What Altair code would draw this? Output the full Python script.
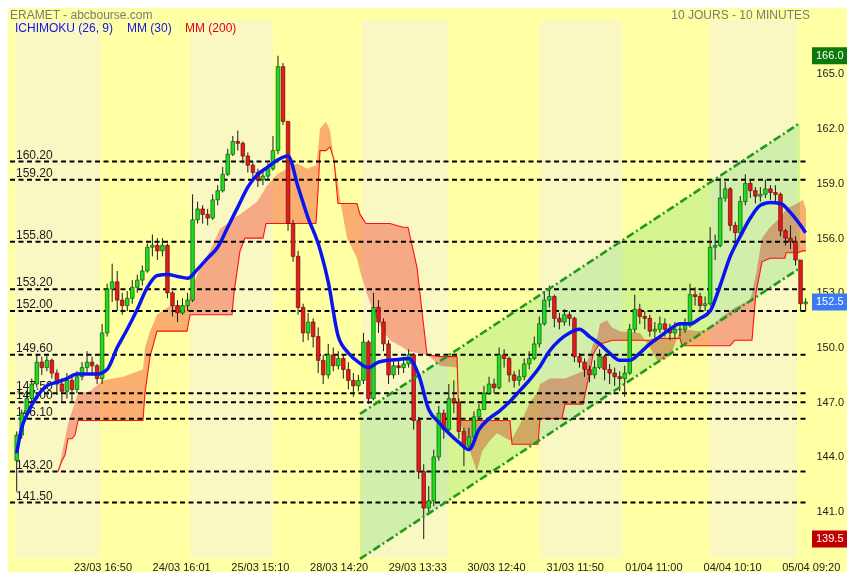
import altair as alt
import pandas as pd

# ---------------- data (30-minute candles, index j) ----------------
first_open = 143.8
close = [
    145.2, 146.4, 147.2, 148.0, 149.2, 148.9, 149.3, 148.6, 148.0, 147.6,
    148.2, 147.7, 148.4, 148.9, 149.2, 149.0, 148.3, 150.8, 153.2, 153.6,
    152.6, 152.3, 152.7, 153.3, 153.7, 154.2, 155.5, 155.6, 155.3, 155.6,
    153.0, 152.3, 151.9, 152.3, 152.6, 157.0, 157.6, 157.3, 157.1, 158.1,
    158.6, 159.5, 160.6, 161.3, 161.2, 160.5, 160.0, 159.6, 159.2, 159.4,
    159.8, 160.8, 165.4, 162.4, 156.8, 155.0, 152.2, 150.8, 151.4, 150.6,
    149.3, 148.5, 149.6, 149.0, 149.4, 148.8, 148.2, 147.9, 148.2, 150.3,
    147.2, 152.2, 151.4, 150.2, 148.5, 149.0, 148.9, 149.1, 149.6, 146.0,
    143.2, 141.2, 141.6, 144.0, 146.4, 145.5, 147.2, 147.0, 145.4, 144.6,
    145.1, 146.2, 146.6, 147.5, 148.0, 147.8, 149.6, 149.4, 148.5, 148.2,
    148.4, 149.1, 149.4, 150.2, 151.3, 152.6, 152.8, 151.6, 151.4, 151.8,
    151.6, 149.5, 149.2, 148.8, 148.5, 148.9, 149.5, 148.8, 148.6, 148.4,
    148.3, 148.6, 151.0, 152.1, 151.7, 151.6, 150.9, 151.0, 151.3, 151.0,
    150.8, 151.0, 151.0, 151.2, 152.9, 152.8, 152.3, 152.4, 155.5, 155.6,
    158.2, 158.7, 156.7, 156.3, 158.0, 159.0, 158.6, 158.3, 158.4, 158.7,
    158.5, 158.4, 156.4, 156.0, 155.8, 154.8, 152.4, 152.5]
high = [
    145.4, 146.6, 147.6, 148.3, 149.6, 149.5, 149.6, 149.4, 148.8, 148.3,
    148.6, 148.4, 148.7, 149.2, 149.8, 149.5, 149.1, 151.3, 153.5, 154.6,
    154.2, 153.0, 153.1, 153.7, 154.0, 154.5, 155.7, 156.2, 156.0, 156.0,
    155.7, 153.1, 152.6, 152.7, 153.0, 158.4, 158.0, 157.8, 157.6, 158.4,
    158.9, 159.9, 160.9, 161.6, 161.9, 161.3, 160.7, 160.2, 159.8, 159.7,
    160.1, 161.6, 166.0, 165.6, 162.4, 157.0, 155.3, 152.4, 151.9, 151.6,
    151.1, 149.6, 150.2, 150.0, 149.8, 149.6, 149.2, 148.6, 148.5, 150.8,
    150.4, 153.0, 152.6, 151.6, 150.4, 149.4, 149.3, 149.5, 149.9, 149.7,
    146.2, 143.6, 142.4, 144.4, 146.8, 146.6, 148.0, 148.2, 147.2, 145.6,
    145.6, 146.5, 146.9, 147.9, 148.4, 148.3, 150.0, 149.9, 149.5, 148.7,
    148.8, 149.4, 149.8, 150.6, 151.7, 153.1, 153.4, 152.9, 151.9, 152.1,
    152.0, 151.7, 149.7, 149.4, 149.0, 149.3, 149.9, 149.6, 149.1, 148.9,
    148.7, 149.0, 151.3, 152.9, 152.4, 152.0, 151.8, 151.4, 151.7, 151.6,
    151.3, 151.4, 151.3, 151.6, 153.5, 153.3, 153.0, 152.8, 156.6, 156.2,
    159.3, 159.1, 158.8, 156.9, 158.3, 159.5, 159.2, 158.8, 158.8, 159.2,
    158.9, 158.9, 158.5, 156.5, 156.7, 156.1, 154.8, 152.7]
low = [
    142.1, 145.0, 146.1, 147.0, 147.8, 148.5, 148.7, 148.3, 147.4, 147.0,
    147.2, 147.0, 147.5, 148.2, 148.6, 148.6, 148.0, 148.0, 150.6, 152.5,
    152.0, 151.8, 152.0, 152.4, 153.0, 153.4, 154.1, 155.0, 154.8, 155.0,
    152.7, 151.7, 151.4, 151.8, 152.0, 152.5, 156.8, 156.8, 156.7, 157.0,
    157.8, 158.5, 159.4, 160.5, 160.8, 160.1, 159.6, 159.1, 158.8, 158.9,
    159.2, 159.7, 160.6, 162.2, 156.4, 154.7, 151.8, 150.3, 150.4, 150.0,
    148.6, 148.0, 148.3, 148.7, 148.8, 148.3, 147.7, 147.3, 147.6, 148.0,
    146.9, 147.1, 150.8, 149.8, 148.0, 148.3, 148.5, 148.6, 148.9, 145.5,
    142.8, 139.5, 140.9, 141.3, 143.8, 145.0, 145.4, 146.4, 145.0, 143.5,
    144.4, 144.9, 146.0, 146.6, 147.4, 147.5, 147.7, 148.9, 148.1, 147.8,
    147.9, 148.2, 148.8, 149.3, 150.0, 151.2, 152.2, 151.1, 151.0, 151.2,
    151.2, 149.2, 148.9, 148.4, 148.1, 148.3, 148.8, 148.2, 148.0, 147.9,
    147.6, 147.3, 148.5, 150.8, 151.3, 151.0, 150.6, 150.5, 150.8, 150.6,
    150.4, 150.5, 150.6, 150.8, 151.1, 152.3, 152.0, 152.0, 152.3, 154.8,
    155.5, 158.0, 156.4, 155.5, 156.2, 157.8, 158.2, 157.9, 158.0, 158.2,
    158.1, 158.0, 156.1, 155.6, 155.4, 154.5, 152.0, 152.0]

# MM(30)
ma_j = [0, 1, 2, 4, 6, 8, 10, 12, 14, 16, 18, 20, 22, 24, 26, 28, 30, 32, 34, 36,
        38, 40, 42, 44, 46, 48, 50, 52, 54, 56, 58, 60, 62, 64, 66, 68, 70, 72, 74, 76,
        78, 80, 82, 84, 86, 88, 90, 92, 94, 96, 98, 100, 102, 104, 106, 108, 110, 112,
        114, 116, 118, 120, 122, 124, 126, 128, 130, 132, 134, 136, 138, 140, 142, 144,
        146, 148, 150, 152, 154, 156, 157]
ma_v = [144.2, 145.6, 146.3, 147.3, 147.9, 148.1, 148.3, 148.55, 148.55, 148.55,
        148.8, 150.0, 151.0, 152.1, 153.3, 153.95, 154.0, 153.9, 153.8, 154.3,
        154.9, 155.5, 156.6, 157.7, 158.8, 159.5, 159.9, 160.3, 160.5, 158.8,
        157.1, 155.7, 153.6, 150.6, 149.7, 149.2, 148.9, 149.2, 149.3, 149.35,
        149.4, 148.5, 146.6, 145.9, 145.3, 144.8, 144.4, 145.5, 146.1, 146.5,
        147.0, 147.6, 148.2, 148.9, 149.8, 150.4, 150.8, 151.0, 150.6, 150.2,
        149.7, 149.3, 149.3, 149.7, 150.2, 150.6, 151.0, 151.3, 151.3, 151.6,
        152.0, 153.4, 155.0, 156.1, 157.1, 157.8, 157.95, 157.9, 157.4, 156.7, 156.3]

# Ichimoku cloud: red step line and the other cloud edge
cloud_j = [8.22, 9.01, 9.61, 10.21, 11.0, 11.6, 12.2, 14.59, 17.17, 21.15, 25.13, 25.53,
           26.53, 27.92, 30.51, 33.89, 34.49, 36.48, 38.47, 40.46, 42.85, 43.24, 44.44,
           45.43, 47.82, 49.02, 49.61, 51.8, 55.78, 57.77, 59.56, 59.96, 60.36, 61.55,
           62.35, 63.14, 63.94, 64.54, 65.73, 67.72, 68.32, 69.51, 70.91, 72.9, 74.29,
           76.88, 77.87, 79.66, 81.65, 84.24, 87.62, 88.02, 88.82, 90.21, 91.6, 92.6,
           94.19, 95.58, 98.17, 98.57, 100.16, 102.15, 103.74, 104.14, 106.13, 108.52,
           109.11, 112.7, 114.09, 114.69, 115.48, 116.08, 117.47, 118.47, 120.06, 124.04,
           126.03, 127.42, 129.01, 130.41, 132.0, 132.4, 135.98, 137.97, 139.96, 141.95,
           142.95, 145.93, 146.33, 147.12, 148.32, 149.91, 151.9, 152.9, 153.1, 153.89,
           155.28, 156.48, 157.07]
kijun = [143.2, 143.8, 144.1, 145.0, 145.0, 145.2, 146.0, 146.0, 146.0, 146.0, 146.0, 147.5,
         149.5, 150.9, 150.9, 150.9, 151.8, 151.8, 151.8, 151.8, 151.8, 153.0, 155.3,
         156.0, 156.0, 156.0, 156.8, 156.8, 156.8, 156.8, 156.8, 158.5, 160.8, 160.8,
         161.0, 160.3, 157.9, 157.9, 157.9, 157.9, 157.3, 156.8, 156.8, 156.8, 156.8,
         156.6, 156.6, 154.4, 149.6, 149.5, 149.5, 146.0, 146.0, 146.0, 146.0, 146.0,
         146.0, 146.0, 146.0, 144.7, 144.7, 144.7, 144.7, 146.1, 146.1, 146.1,
         146.9, 146.9, 148.7, 149.6, 150.0, 150.2, 150.3, 150.4, 150.4, 150.4,
         150.4, 150.5, 150.5, 150.5, 150.5, 150.1, 150.1, 150.1, 150.1, 150.1,
         150.4, 150.4, 150.4, 153.0, 154.7, 154.9, 154.9, 154.9, 155.2, 155.2,
         155.2, 155.3, 155.3]
span_a = [143.2, 144.2, 145.0, 145.8, 146.5, 147.0, 147.5, 147.6, 148.2, 148.4, 148.8, 150.0,
          150.9, 151.8, 152.3, 152.3, 153.0, 154.4, 155.3, 156.5, 157.0, 157.1, 157.3,
          157.5, 158.0, 158.5, 158.8, 159.5, 160.1, 159.8, 160.0, 160.8, 162.0, 162.4,
          161.9, 160.3, 159.0, 157.8, 156.0, 154.9, 154.2, 153.1, 152.0, 150.9, 150.4,
          150.0, 149.8, 149.7, 149.6, 149.0, 148.9, 146.0, 145.5, 144.3, 143.2, 144.3,
          144.9, 145.3, 144.9, 145.0, 145.8, 147.0, 147.6, 148.0, 148.3, 148.3,
          148.3, 148.7, 149.6, 150.2, 150.5, 151.3, 151.5, 151.1, 150.9, 150.8,
          150.0, 149.3, 149.3, 149.8, 150.9, 151.0, 150.9, 151.0, 151.6, 152.0,
          152.2, 152.6, 153.0, 154.0, 156.0, 156.6, 157.1, 157.5, 157.6, 157.7,
          157.9, 158.1, 157.6]

# Bullish channel
chan_j = [68.32, 155.88]
chan_upper = [146.36, 162.31]
chan_lower = [138.41, 154.36]

# alternate day bands
band_start = [-0.4, 34.5, 68.7, 104.1, 138.0]
band_end = [16.6, 51.0, 85.8, 120.5, 155.3]

levels = [160.2, 159.2, 155.8, 153.2, 152.0, 149.6, 147.5, 147.0, 146.1, 143.2, 141.5]
level_labels = ["160.20", "159.20", "155.80", "153.20", "152.00", "149.60",
                "147.50", "147.00", "146.10", "143.20", "141.50"]

tick_j = [17.17, 32.83, 48.49, 64.16, 79.82, 95.48, 111.15, 126.81, 142.47, 158.13]
tick_labels = ["23/03 16:50", "24/03 16:01", "25/03 15:10", "28/03 14:20", "29/03 13:33",
               "30/03 12:40", "31/03 11:50", "01/04 11:00", "04/04 10:10", "05/04 09:20"]

axis_values = [141, 144, 147, 150, 153, 156, 159, 162, 165]
marker_prices = [166.0, 152.5, 139.5]
marker_labels = ["166.0", "152.5", "139.5"]
marker_colors = ["#0B7A0B", "#3A7BF5", "#C00000"]

legend_texts = ["ICHIMOKU (26, 9)", "MM (30)", "MM (200)"]
legend_colors = ["#1414E6", "#1414E6", "#E60000"]

# ---------------- tables ----------------
opens = [first_open] + close[:-1]
candles = pd.DataFrame({
    "j": list(range(len(close))), "o": opens, "h": high, "l": low, "c": close,
})
candles["dir"] = ["up" if c >= o else "down" for o, c in zip(opens, close)]

ma_df = pd.DataFrame({"j": ma_j, "v": ma_v})
cloud_df = pd.DataFrame({"j": cloud_j, "b": kijun, "a": span_a})
chan_df = pd.DataFrame({"j": chan_j, "up": chan_upper, "lo": chan_lower})
band_df = pd.DataFrame({"s": band_start, "e": band_end})
lvl_df = pd.DataFrame({"p": levels, "t": level_labels})
tick_df = pd.DataFrame({"j": tick_j, "t": tick_labels})
mark_df = pd.DataFrame({"p": marker_prices, "t": marker_labels, "col": marker_colors})
legend_df = pd.DataFrame({"t": legend_texts, "col": legend_colors})

FONT = "Liberation Sans"
W, H = 798, 538
xs = alt.Scale(domain=[-1.731, 157.08], nice=False, zero=False, padding=0)
ys = alt.Scale(domain=[138.46, 167.96], nice=False, zero=False, padding=0)
yaxis = alt.Axis(orient="right", values=axis_values, format=".1f", ticks=False,
                 domain=False, grid=False, labelPadding=10, labelFontSize=11,
                 labelColor="#222222", labelFont=FONT, title=None)


def X(f):
    return alt.X(f, type="quantitative", scale=xs, axis=None)


def Y(f):
    return alt.Y(f, type="quantitative", scale=ys, axis=yaxis)


bands = alt.Chart(band_df).mark_rect(color="#FAF8C2").encode(
    x=X("s"), x2="e", y=alt.value(0), y2=alt.value(H))

chan_fill = alt.Chart(chan_df).mark_area(color="#D6F5E0", blend="multiply").encode(
    x=X("j"), y=Y("lo"), y2="up")

cloud = alt.Chart(cloud_df).mark_area(color="#FAAFAF", blend="multiply").encode(
    x=X("j"), y=Y("a"), y2="b")

kijun_line = alt.Chart(cloud_df).mark_line(color="#FF1010", strokeWidth=1.1).encode(
    x=X("j"), y=Y("b"))

lvl_rules = alt.Chart(lvl_df).mark_rule(color="black", strokeWidth=2, strokeDash=[5, 3.5]).encode(
    y=Y("p"), x=alt.value(2), x2=alt.value(W))

lvl_text = alt.Chart(lvl_df).mark_text(align="left", baseline="alphabetic", dy=-3,
                                       fontSize=12, font=FONT, color="#1A1A1A").encode(
    y=Y("p"), x=alt.value(8), text="t")

chan_up = alt.Chart(chan_df).mark_line(color="#1E9A1E", strokeWidth=2.6,
                                       strokeDash=[8, 3, 2, 3]).encode(x=X("j"), y=Y("up"))
chan_lo = alt.Chart(chan_df).mark_line(color="#1E9A1E", strokeWidth=2.6,
                                       strokeDash=[8, 3, 2, 3]).encode(x=X("j"), y=Y("lo"))

wicks = alt.Chart(candles).mark_rule(color="#1a1a1a", strokeWidth=1).encode(
    x=X("j"), y=Y("l"), y2="h")

bodies = alt.Chart(candles).mark_bar(size=3.6, strokeWidth=0.7, opacity=1).encode(
    x=X("j"), y=Y("o"), y2="c",
    color=alt.Color("dir:N", scale=alt.Scale(domain=["up", "down"], range=["#1EDC1E", "#E41B1B"]), legend=None),
    stroke=alt.Stroke("dir:N", scale=alt.Scale(domain=["up", "down"], range=["#0A5A0A", "#6A0A0A"]), legend=None))

ma_line = alt.Chart(ma_df).mark_line(color="#0A14F0", strokeWidth=3.5, interpolate="monotone").encode(
    x=X("j"), y=Y("v"))

boxes = alt.Chart(mark_df).mark_tick(orient="horizontal", size=35, thickness=17, opacity=1).encode(
    x=alt.value(821.5), y=Y("p"), color=alt.Color("col:N", scale=None))

box_text = alt.Chart(mark_df).mark_text(align="left", baseline="middle", color="white",
                                        fontSize=11, font=FONT).encode(
    x=alt.value(808), y=Y("p"), text="t")

date_text = alt.Chart(tick_df).mark_text(align="center", baseline="middle", fontSize=11,
                                         font=FONT, color="#222222").encode(
    x=X("j"), y=alt.value(H + 10), text="t")

title_df = pd.DataFrame({"t": ["ERAMET - abcbourse.com"]})
title = alt.Chart(title_df).mark_text(align="left", baseline="alphabetic", fontSize=12,
                                      font=FONT, color="#7A7A7A").encode(
    x=alt.value(2), y=alt.value(-1), text="t")
sub_df = pd.DataFrame({"t": ["10 JOURS - 10 MINUTES"]})
subtitle = alt.Chart(sub_df).mark_text(align="right", baseline="alphabetic", fontSize=12,
                                       font=FONT, color="#7A7A7A").encode(
    x=alt.value(802), y=alt.value(-1), text="t")

leg1 = alt.Chart(legend_df.iloc[[0]]).mark_text(align="left", baseline="alphabetic", fontSize=12,
                                                font=FONT, color=legend_colors[0]).encode(
    x=alt.value(7), y=alt.value(12), text="t")
leg2 = alt.Chart(legend_df.iloc[[1]]).mark_text(align="left", baseline="alphabetic", fontSize=12,
                                                font=FONT, color=legend_colors[1]).encode(
    x=alt.value(119), y=alt.value(12), text="t")
leg3 = alt.Chart(legend_df.iloc[[2]]).mark_text(align="left", baseline="alphabetic", fontSize=12,
                                                font=FONT, color=legend_colors[2]).encode(
    x=alt.value(177), y=alt.value(12), text="t")

chart = alt.layer(
    bands, chan_fill, cloud, kijun_line, lvl_rules, lvl_text, wicks, bodies,
    chan_up, chan_lo, ma_line, boxes, box_text, date_text, title, subtitle, leg1, leg2, leg3
).properties(
    width=W, height=H, background="#FFFFA4",
    padding={"left": 0, "top": 12, "right": 41, "bottom": 14},
    autosize=alt.AutoSizeParams(type="none"),
).configure_view(stroke=None)

chart.save("out.html", embed_options={"renderer": "svg", "actions": False})
